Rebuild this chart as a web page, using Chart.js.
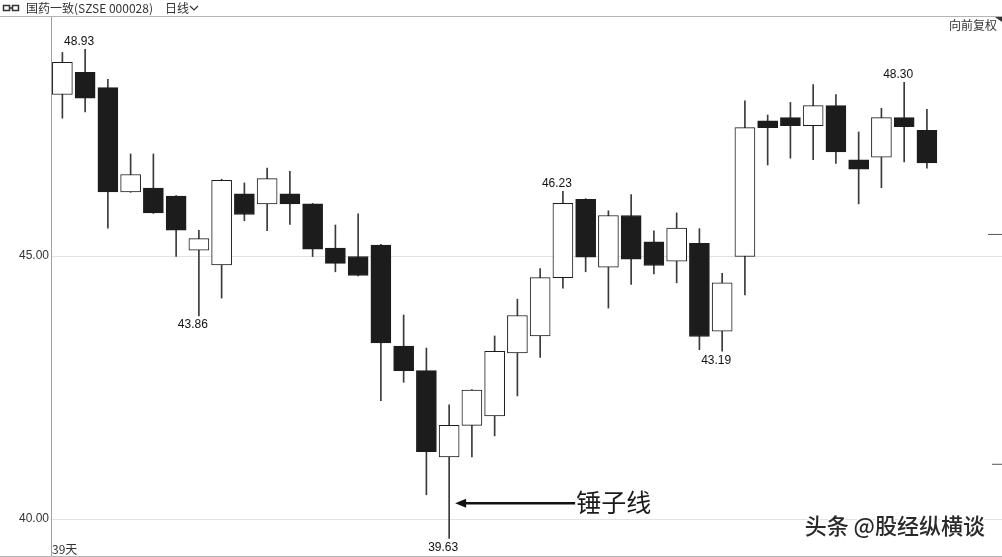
<!DOCTYPE html>
<html>
<head>
<meta charset="utf-8">
<script src="https://cdn.jsdelivr.net/npm/chart.js@4.4.1/dist/chart.umd.min.js"></script>
<style>
  html, body { margin: 0; padding: 0; background: #fff; overflow: hidden; }
  canvas { display: block; }
</style>
</head>
<body>
<canvas id="grafico" width="1002" height="557"></canvas>
<script>
// datos diarios (39 dias)
const dias = [1,2,3,4,5,6,7,8,9,10,11,12,13,14,15,16,17,18,19,20,21,22,23,24,25,26,27,28,29,30,31,32,33,34,35,36,37,38,39];
const apertura = [48.07,48.49,48.20,46.22,46.29,46.14,45.11,44.83,46.18,45.99,46.18,45.99,45.15,44.99,45.21,43.29,42.82,41.18,41.78,41.96,43.16,43.48,44.59,46.08,44.79,45.77,45.27,44.90,45.24,43.57,44.99,47.57,47.63,47.48,47.86,46.83,46.88,47.63,47.39];
const maximo   = [48.87,48.93,48.36,46.94,46.94,46.15,45.49,46.46,46.39,46.67,46.61,46.00,45.59,45.80,45.22,43.88,43.25,42.17,42.46,43.48,44.18,44.76,46.23,46.09,45.86,46.17,45.48,45.82,45.52,44.67,47.95,47.68,47.92,48.26,48.07,47.36,47.81,48.30,47.79];
const minimo   = [47.62,47.74,45.53,46.21,45.81,44.99,43.86,44.20,45.67,45.48,45.60,44.99,44.70,44.62,42.25,42.60,40.46,39.63,41.18,41.58,42.34,43.07,44.39,44.70,44.01,44.46,44.66,44.49,43.22,43.19,44.26,46.73,46.86,46.83,46.76,45.99,46.30,46.79,46.67];
const cierre   = [48.68,48.00,46.22,46.55,45.82,45.49,45.33,46.44,45.79,46.47,45.99,45.13,44.86,44.63,43.35,42.82,41.28,41.78,42.45,43.19,43.87,44.59,46.00,44.98,45.77,44.94,44.82,45.53,43.47,44.49,47.44,47.44,47.48,47.86,46.98,46.65,47.63,47.46,46.77];

// marcas de maximos / minimos
const marcasDia  = [2, 7, 18, 23, 30, 38];
const marcasTipo = ['alto', 'bajo', 'bajo', 'alto', 'bajo', 'alto'];

const ticksY = [40, 45];

const titulo = '国药一致(SZSE 000028)';
const periodo = '日线';
const ajuste = '向前复权';
const totalDias = '39天';
const nota = '锤子线';
const notaDia = 18;
const notaValor = 40.30;
const marcaAgua = '头条 @股经纵横谈';

const fuente = '"Liberation Sans", Arial, sans-serif';
const fuenteCJK = '"Noto Sans CJK SC", "Liberation Sans", sans-serif';

const cuerpos = dias.map((d, i) => ({ x: d, y: [apertura[i], cierre[i]] }));
const mechas = dias.map((d, i) => ({ x: d, y: [minimo[i], maximo[i]] }));
const sube = dias.map((d, i) => cierre[i] >= apertura[i]);

const decoracion = {
  id: 'decoracion',
  beforeDraw(chart) {
    const ctx = chart.ctx;
    ctx.save();
    ctx.fillStyle = '#fff';
    ctx.fillRect(0, 0, chart.width, chart.height);
    ctx.restore();
  },
  afterDraw(chart) {
    const ctx = chart.ctx;
    const xs = chart.scales.x, ys = chart.scales.y;
    ctx.save();

    // cabecera y pie
    ctx.strokeStyle = '#b4b4b4';
    ctx.lineWidth = 1;
    ctx.beginPath();
    ctx.moveTo(0, 16.5); ctx.lineTo(chart.width, 16.5);
    ctx.moveTo(0, 556.5); ctx.lineTo(chart.width, 556.5);
    ctx.stroke();

    // icono
    ctx.strokeStyle = '#333';
    ctx.lineWidth = 1.5;
    ctx.strokeRect(3.5, 5.5, 6, 5);
    ctx.strokeRect(12.5, 5.5, 6, 5);
    ctx.beginPath(); ctx.moveTo(9.5, 8); ctx.lineTo(12.5, 8); ctx.stroke();

    ctx.fillStyle = '#333';
    ctx.font = '12px ' + fuenteCJK;
    ctx.textBaseline = 'middle';
    ctx.textAlign = 'left';
    ctx.fillText(titulo, 26, 8);
    ctx.fillText(periodo, 165, 8);
    ctx.lineWidth = 1.2;
    ctx.beginPath();
    ctx.moveTo(190, 6); ctx.lineTo(194, 10); ctx.lineTo(198, 6);
    ctx.stroke();

    ctx.textAlign = 'right';
    ctx.fillText(ajuste, 997, 25);
    ctx.beginPath();
    ctx.moveTo(995, 17); ctx.lineTo(1002, 17); ctx.lineTo(1002, 22);
    ctx.closePath(); ctx.fill();

    // pequenas marcas del borde derecho
    ctx.strokeStyle = '#555';
    ctx.lineWidth = 1;
    ctx.beginPath();
    ctx.moveTo(988, ys.getPixelForValue(45.42) + 0.5); ctx.lineTo(1002, ys.getPixelForValue(45.42) + 0.5);
    ctx.moveTo(992, ys.getPixelForValue(41.05) + 0.5); ctx.lineTo(1002, ys.getPixelForValue(41.05) + 0.5);
    ctx.stroke();

    ctx.textAlign = 'left';
    ctx.fillText(totalDias, 52, 549);

    // etiquetas de maximos y minimos
    ctx.font = '12px ' + fuente;
    ctx.fillStyle = '#111';
    ctx.textAlign = 'center';
    marcasDia.forEach((d, k) => {
      const i = d - 1;
      const x = xs.getPixelForValue(d) - 6;
      if (marcasTipo[k] === 'alto') {
        ctx.textBaseline = 'bottom';
        ctx.fillText(maximo[i].toFixed(2), x, ys.getPixelForValue(maximo[i]) - 2);
      } else {
        ctx.textBaseline = 'top';
        ctx.fillText(minimo[i].toFixed(2), x, ys.getPixelForValue(minimo[i]) + 3);
      }
    });

    // flecha y nota
    const yN = ys.getPixelForValue(notaValor);
    const xPunta = xs.getPixelForValue(notaDia) + 6;
    const xFin = xPunta + 120;
    ctx.strokeStyle = '#111';
    ctx.fillStyle = '#111';
    ctx.lineWidth = 2.5;
    ctx.beginPath();
    ctx.moveTo(xPunta + 8, yN); ctx.lineTo(xFin, yN);
    ctx.stroke();
    ctx.beginPath();
    ctx.moveTo(xPunta, yN);
    ctx.lineTo(xPunta + 11, yN - 4.5);
    ctx.lineTo(xPunta + 11, yN + 4.5);
    ctx.closePath(); ctx.fill();

    ctx.font = '25px ' + fuenteCJK;
    ctx.textAlign = 'left';
    ctx.textBaseline = 'middle';
    ctx.fillStyle = '#1a1a1a';
    ctx.fillText(nota, xFin + 1, yN - 1);

    // marca de agua
    ctx.font = '500 22px ' + fuenteCJK;
    ctx.textAlign = 'right';
    ctx.lineWidth = 3;
    ctx.strokeStyle = 'rgba(255,255,255,0.9)';
    ctx.strokeText(marcaAgua, 985, 526);
    ctx.fillStyle = '#2a2a2a';
    ctx.fillText(marcaAgua, 985, 526);

    ctx.restore();
  }
};

new Chart(document.getElementById('grafico'), {
  type: 'bar',
  data: {
    datasets: [
      {
        label: 'cuerpo',
        data: cuerpos,
        backgroundColor: sube.map(s => s ? '#ffffff' : '#1c1c1c'),
        borderColor: '#1c1c1c',
        borderWidth: 1,
        borderSkipped: false,
        barThickness: 20,
        grouped: false
      },
      {
        label: 'mecha',
        data: mechas,
        backgroundColor: '#3a3a3a',
        borderWidth: 0,
        barThickness: 1,
        grouped: false
      }
    ]
  },
  options: {
    responsive: false,
    animation: false,
    events: [],
    layout: { padding: { top: 17, bottom: 1, left: 0, right: 0 } },
    plugins: { legend: { display: false }, tooltip: { enabled: false } },
    scales: {
      x: {
        type: 'linear',
        min: 0.5,
        max: 42.3,
        display: false,
        offset: false
      },
      y: {
        min: 39.297,
        max: 49.544,
        afterBuildTicks: s => { s.ticks = ticksY.map(v => ({ value: v })); },
        afterFit: s => { s.width = 51; s.paddingTop = 0; s.paddingBottom = 0; },
        grid: { color: '#e2e2e2', drawTicks: false },
        border: { color: '#a0a0a0' },
        ticks: {
          padding: 2,
          color: '#333',
          font: { family: fuente, size: 12 },
          callback: v => Number(v).toFixed(2)
        }
      }
    }
  },
  plugins: [decoracion]
});
</script>
</body>
</html>
